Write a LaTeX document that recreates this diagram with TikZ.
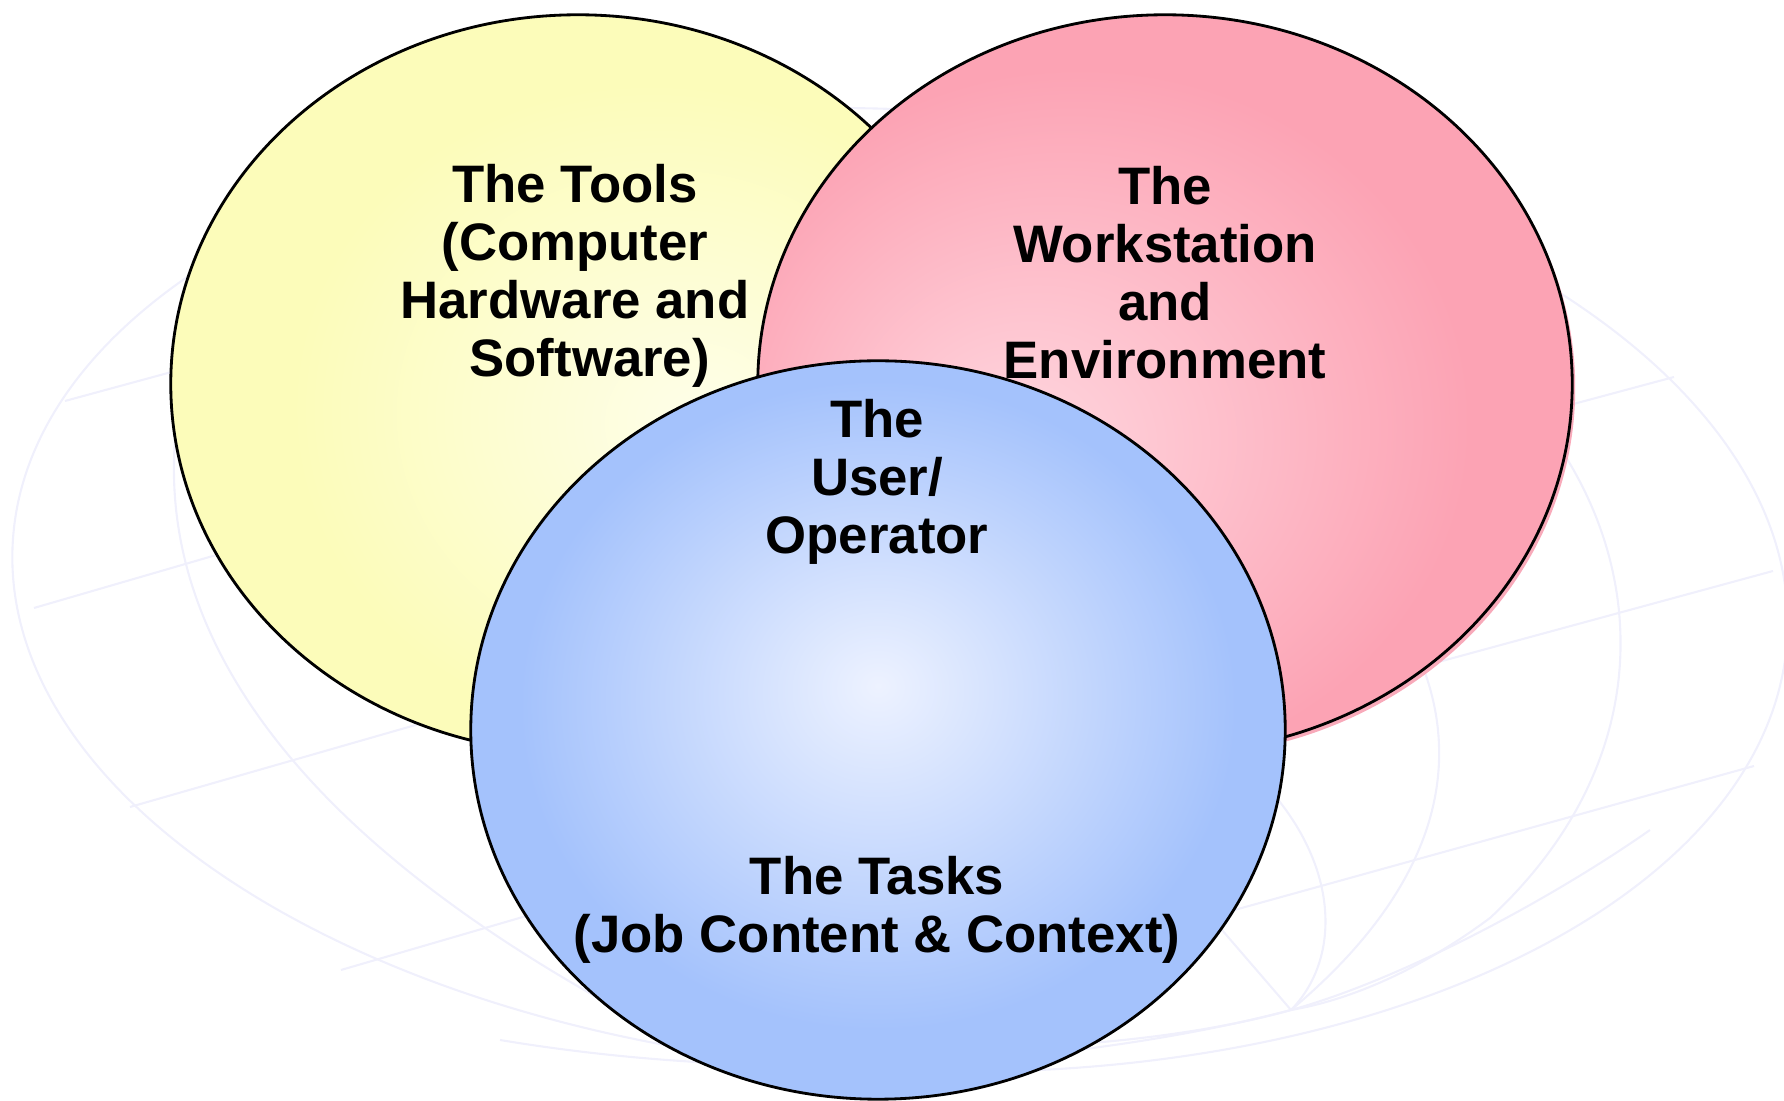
\documentclass[tikz,border=0pt]{standalone}
\usepackage{fontspec}
\setmainfont{Liberation Sans}
\usetikzlibrary{shapes.geometric}

\definecolor{toolsout}{HTML}{FCFCBA}
\definecolor{toolsin}{HTML}{FEFEEA}
\definecolor{workout}{HTML}{FCA3B4}
\definecolor{workin}{HTML}{FFD8E0}
\definecolor{workshadow}{HTML}{F8AABA}
\definecolor{userout}{HTML}{A4C2FC}
\definecolor{userin}{HTML}{EDF2FF}
\definecolor{globe}{HTML}{F0F0FC}

\pgfdeclareradialshading{toolsshade}{\pgfpoint{8bp}{-3bp}}{color(0bp)=(toolsin); color(22bp)=(toolsout); color(50bp)=(toolsout)}
\pgfdeclareradialshading{workshade}{\pgfpoint{-10bp}{-5bp}}{color(0bp)=(workin); color(24bp)=(workout); color(50bp)=(workout)}
\pgfdeclareradialshading{usershade}{\pgfpoint{0bp}{3bp}}{color(0bp)=(userin); color(22bp)=(userout); color(50bp)=(userout)}

\begin{document}
\begin{tikzpicture}[x=0.01cm, y=-0.01cm]
  \useasboundingbox (0,0) rectangle (1784,1101);

  \tikzstyle{grid}=[draw=globe, line width=0.6pt]
  \tikzstyle{ring}=[ellipse, draw=black, line width=0.8pt, minimum width=8.14cm, minimum height=7.38cm, inner sep=0pt]
  \tikzstyle{venntext}=[align=center, font=\bfseries\fontsize{15}{16.5}\selectfont]

  % Globus im Hintergrund.
  \draw[grid, rotate around={-3:(900,590)}] (900,590) ellipse [x radius=8.88cm, y radius=4.8cm];
  \draw[grid] (175,440) .. controls (160,640) and (300,830) .. (600,999) .. controls (850,1075) and (1150,1050) .. (1291,1010);
  \draw[grid] (1540,420) .. controls (1650,560) and (1660,760) .. (1490,918) .. controls (1420,970) and (1350,1000) .. (1291,1010);
  \draw[grid] (1400,620) .. controls (1460,720) and (1470,860) .. (1291,1010);
  \draw[grid] (1270,790) .. controls (1340,870) and (1340,960) .. (1291,1010);
  \draw[grid] (1222,930) -- (1291,1010);
  \draw[grid] (500,1040) .. controls (800,1090) and (1100,1060) .. (1291,1010) .. controls (1400,980) and (1550,900) .. (1650,830);

  \draw[grid] (65,401) -- (190,367);
  \draw[grid] (34,608) -- (230,551);
  \draw[grid] (130,807) -- (440,718);
  \draw[grid] (341,970) -- (540,912);
  \draw[grid] (1540,413) -- (1674,377);
  \draw[grid] (1420,667) -- (1773,571);
  \draw[grid] (1220,914) -- (1754,766);

  % Kreise.
  \node[ring, shade, shading=toolsshade] (tools) at (578,384) {};
  \node[ellipse, fill=workshadow, minimum width=8.14cm, minimum height=7.38cm, inner sep=0pt] (workback) at (1168,388) {};
  \node[ring, shade, shading=workshade] (work) at (1165,384) {};
  \node[ring, shade, shading=usershade] (user) at (878,730) {};

  % Beschriftungen.
  \node[venntext] (toolslabel) at (575,276) {The Tools\\(Computer\\Hardware and\\\ \ Software)};
  \node[venntext] (worklabel) at (1165,273) {The\\Workstation\\and\\Environment};
  \node[venntext] (userlabel) at (877,482) {The\\User/\\Operator};
  \node[venntext] (tasklabel) at (877,910) {The Tasks\\(Job Content \& Context)};
\end{tikzpicture}
\end{document}
